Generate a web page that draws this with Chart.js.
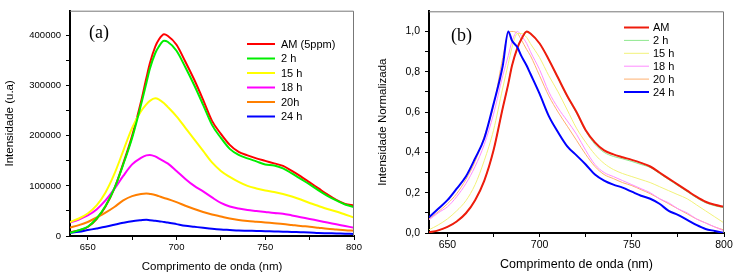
<!DOCTYPE html>
<html>
<head>
<meta charset="utf-8">
<script src="https://cdn.jsdelivr.net/npm/chart.js@4/dist/chart.umd.min.js"></script>
<style>
  body { margin: 0; background: #fff; width: 735px; height: 276px; position: relative; overflow: hidden; }
  canvas { position: absolute; top: 0; }
  #chart-a { left: 0; }
  #chart-b { left: 367px; }
</style>
</head>
<body>
<canvas id="chart-a" width="367" height="276"></canvas>
<canvas id="chart-b" width="368" height="276"></canvas>
<script>
// Data
const wavelength = [640,645,650,655,660,665,670,675,680,683,685,688,690,693,695,700,705,710,715,720,725,730,735,740,745,750,755,760,765,770,775,780,785,790,795,800];

// (a) raw intensity, u.a
const amRaw  = [7500,11000,18000,34000,59000,95000,145000,200000,268000,315000,345000,378000,392000,403000,400000,382000,348000,312000,272000,230000,204000,182000,168000,161000,155000,150000,145000,140000,130000,119000,107000,95000,83000,72000,64000,61000];
const h2Raw  = [6500,11500,18500,35000,60000,95000,143000,196000,262000,305000,334000,365000,378000,390000,388000,370000,337000,301000,262000,222000,196000,174000,162000,155000,149000,143000,141000,135000,125000,114000,103000,91000,80000,71000,63000,58000];
const h15Raw = [28000,35000,45000,61000,87000,124000,170000,216000,249000,263000,270000,275000,273000,265000,258000,239000,216000,193000,170000,147000,130000,118000,108000,100000,95000,91000,88000,84000,79000,73000,66000,60000,54000,49000,43000,37000];
const h18Raw = [27000,33000,41000,53000,71000,94000,120000,143000,156000,161000,162000,159000,155000,149000,145000,130000,114000,100000,89000,77000,66000,59000,55000,52000,50000,48000,46000,44500,41000,37500,34000,30500,27000,23500,20000,16500];
const h20Raw = [17000,21700,28000,37000,46700,58000,71000,79600,84000,85000,84000,82000,79600,76000,74000,67700,60500,54000,48000,43000,39000,35000,32000,30000,28500,27000,25500,24000,22000,20000,18500,16500,14500,13000,11500,10500];
const h24Raw = [6600,8500,11800,15000,18400,22400,26300,29600,31600,32500,31600,30500,29600,28000,27000,23700,20400,18400,16400,14500,13000,12000,11000,10500,10000,9500,9000,8500,8000,7500,7000,6000,5500,5000,4500,4000];

// (b) normalized intensity
const amNorm  = [0.003,0.013,0.03,0.057,0.098,0.163,0.26,0.41,0.62,0.74,0.83,0.92,0.96,1.0,0.99,0.94,0.86,0.77,0.68,0.6,0.51,0.45,0.41,0.39,0.376,0.363,0.348,0.33,0.30,0.27,0.24,0.21,0.18,0.155,0.14,0.13];
const h2Norm  = [0.003,0.012,0.03,0.056,0.097,0.162,0.26,0.41,0.62,0.74,0.83,0.92,0.96,0.995,0.99,0.94,0.86,0.765,0.675,0.595,0.505,0.44,0.4,0.38,0.368,0.355,0.34,0.325,0.295,0.265,0.235,0.205,0.175,0.15,0.135,0.125];
const h15Norm = [0.016,0.04,0.07,0.11,0.16,0.24,0.36,0.51,0.72,0.84,0.92,0.99,0.99,0.97,0.94,0.87,0.78,0.7,0.61,0.52,0.45,0.39,0.345,0.315,0.295,0.28,0.265,0.25,0.23,0.21,0.19,0.17,0.14,0.11,0.08,0.05];
const h18Norm = [0.065,0.1,0.13,0.18,0.245,0.33,0.44,0.59,0.78,0.88,0.95,1.0,0.98,0.94,0.9,0.81,0.7,0.62,0.556,0.49,0.41,0.34,0.3,0.28,0.26,0.24,0.22,0.2,0.17,0.15,0.12,0.1,0.07,0.05,0.03,0.01];
const h20Norm = [0.07,0.105,0.145,0.195,0.265,0.355,0.48,0.63,0.87,0.99,1.0,0.99,0.96,0.91,0.88,0.78,0.68,0.6,0.53,0.46,0.39,0.33,0.29,0.27,0.25,0.235,0.215,0.195,0.17,0.145,0.12,0.095,0.07,0.05,0.03,0.015];
const h24Norm = [0.078,0.12,0.163,0.22,0.28,0.37,0.47,0.64,0.83,1.0,0.955,0.92,0.88,0.83,0.79,0.69,0.58,0.5,0.43,0.385,0.34,0.29,0.26,0.24,0.225,0.205,0.185,0.17,0.145,0.11,0.09,0.065,0.04,0.02,0.01,0.0];

const labelsA = ['AM (5ppm)', '2 h', '15 h', '18 h', '20h', '24 h'];
const labelsB = ['AM', '2 h', '15 h', '18 h', '20 h', '24 h'];

// tick positions
const xTicks  = [650,675,700,725,750,775,800];
const xMajor  = [650,700,750,800];
const yTicksA = [0,50000,100000,150000,200000,250000,300000,350000,400000];
const yTicksB = [0,0.1,0.2,0.3,0.4,0.5,0.6,0.7,0.8,0.9,1.0];

Chart.defaults.font.family = '"Liberation Sans", Arial, sans-serif';
Chart.defaults.color = '#000';

function pts(vals) {
    return wavelength.map((w, i) => ({ x: w, y: vals[i] }));
}

function line(label, vals, color, width, order) {
    return {
        label: label,
        data: pts(vals),
        borderColor: color,
        borderWidth: width,
        pointRadius: 0,
        cubicInterpolationMode: 'monotone',
        fill: false,
        order: order || 0
    };
}

// grey frame on top/right, panel tag and the legend inside the plot
const frameLegend = {
    id: 'frameLegend',
    afterDatasetsDraw(chart, args, opts) {
        const ctx = chart.ctx;
        const a = chart.chartArea;
        ctx.save();
        ctx.strokeStyle = '#777';
        ctx.lineWidth = 1;
        ctx.beginPath();
        ctx.moveTo(a.left, a.top + 0.5);
        ctx.lineTo(a.right - 0.5, a.top + 0.5);
        ctx.lineTo(a.right - 0.5, a.bottom);
        ctx.stroke();

        ctx.fillStyle = '#000';
        ctx.textBaseline = 'middle';
        ctx.font = '18px "Liberation Serif", "Times New Roman", serif';
        ctx.fillText(opts.tag, opts.tagX, opts.tagY);

        ctx.font = opts.font;
        chart.data.datasets.forEach((ds, i) => {
            const y = opts.y + i * opts.rowH;
            ctx.strokeStyle = ds.borderColor;
            ctx.lineWidth = ds.borderWidth;
            ctx.beginPath();
            ctx.moveTo(opts.x1, y);
            ctx.lineTo(opts.x2, y);
            ctx.stroke();
            ctx.fillText(ds.label, opts.textX, y + 0.5);
        });
        ctx.restore();
    }
};

function axisX(height, fontSize, titleSize, titlePad) {
    return {
        type: 'linear',
        min: 640,
        max: 800,
        afterBuildTicks: s => { s.ticks = xTicks.map(v => ({ value: v })); },
        afterFit: s => { s.height = height; },
        ticks: {
            autoSkip: false,
            maxRotation: 0,
            padding: 2,
            font: { size: fontSize },
            callback: v => xMajor.includes(v) ? String(v) : ''
        },
        grid: { drawOnChartArea: false, tickLength: 4, color: '#000', lineWidth: 1 },
        border: { color: '#000', width: 2 },
        title: { display: true, text: 'Comprimento de onda (nm)', font: { size: titleSize }, padding: { top: 0, bottom: titlePad } }
    };
}

// (a)
new Chart(document.getElementById('chart-a').getContext('2d'), {
    type: 'line',
    data: {
        datasets: [
            line(labelsA[0], amRaw, '#ff0000', 2, 1),
            line(labelsA[1], h2Raw, '#00ee00', 2),
            line(labelsA[2], h15Raw, '#ffff00', 2),
            line(labelsA[3], h18Raw, '#ff00ff', 2),
            line(labelsA[4], h20Raw, '#ff7f00', 2),
            line(labelsA[5], h24Raw, '#0000ff', 2)
        ]
    },
    options: {
        responsive: false,
        animation: false,
        layout: { padding: { left: 0, top: 7, right: 13, bottom: 0 } },
        plugins: {
            legend: { display: false },
            tooltip: { enabled: false },
            frameLegend: { tag: '(a)', tagX: 89, tagY: 33, x1: 247, x2: 275, textX: 281, y: 44, rowH: 14.5, font: '11px "Liberation Sans", Arial, sans-serif' }
        },
        scales: {
            x: axisX(40, 9.5, 11.5, 2),
            y: {
                min: 0,
                max: 450000,
                afterBuildTicks: s => { s.ticks = yTicksA.map(v => ({ value: v })); },
                afterFit: s => { s.width = 70; },
                ticks: {
                    autoSkip: false,
                    padding: 5,
                    font: { size: 9.5 },
                    callback: v => v % 100000 === 0 ? String(v) : ''
                },
                grid: { drawOnChartArea: false, tickLength: 4, color: '#000', lineWidth: 1 },
                border: { color: '#000', width: 2 },
                title: { display: true, text: 'Intensidade (u.a)', font: { size: 11.5 }, padding: { top: 3, bottom: 0 } }
            }
        }
    },
    plugins: [frameLegend]
});

// (b)
new Chart(document.getElementById('chart-b').getContext('2d'), {
    type: 'line',
    data: {
        datasets: [
            line(labelsB[0], amNorm, '#ee1c0c', 2),
            line(labelsB[1], h2Norm, '#8ee88e', 1),
            line(labelsB[2], h15Norm, '#f2f27a', 1),
            line(labelsB[3], h18Norm, '#ff8cff', 1),
            line(labelsB[4], h20Norm, '#ffb070', 1),
            line(labelsB[5], h24Norm, '#0000ff', 2, -1)
        ]
    },
    options: {
        responsive: false,
        animation: false,
        layout: { padding: { left: 0, top: 7, right: 11, bottom: 0 } },
        plugins: {
            legend: { display: false },
            tooltip: { enabled: false },
            frameLegend: { tag: '(b)', tagX: 84, tagY: 36, x1: 257, x2: 282, textX: 286, y: 27.5, rowH: 12.9, font: '11px "Liberation Sans", Arial, sans-serif' }
        },
        scales: {
            x: axisX(43, 10.5, 12.5, 4),
            y: {
                min: 0,
                max: 1.1,
                afterBuildTicks: s => { s.ticks = yTicksB.map(v => ({ value: v })); },
                afterFit: s => { s.width = 62; },
                ticks: {
                    autoSkip: false,
                    padding: 5,
                    font: { size: 10.5 },
                    callback: v => Math.round(v * 10) % 2 === 0 ? v.toFixed(1).replace('.', ',') : ''
                },
                grid: { drawOnChartArea: false, tickLength: 4, color: '#000', lineWidth: 1 },
                border: { color: '#000', width: 2 },
                title: { display: true, text: 'Intensidade Normalizada', font: { size: 11.5 }, padding: { top: 9, bottom: 0 } }
            }
        }
    },
    plugins: [frameLegend]
});
</script>
</body>
</html>
